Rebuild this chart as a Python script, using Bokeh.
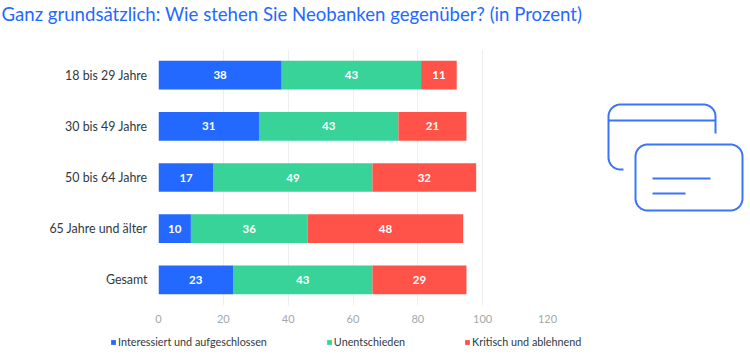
import numpy as np
from bokeh.plotting import figure
from bokeh.models import ColumnDataSource, FactorRange, Range1d, Legend, LegendItem, FixedTicker, Title
from bokeh.core.properties import value
from bokeh.embed import file_html
from bokeh.resources import INLINE

categories = ["18 bis 29 Jahre", "30 bis 49 Jahre", "50 bis 64 Jahre", "65 Jahre und älter", "Gesamt"]
interessiert = [38, 31, 17, 10, 23]
unentschieden = [43, 43, 49, 36, 43]
kritisch = [11, 21, 32, 48, 29]
series_names = ["Interessiert und aufgeschlossen", "Unentschieden", "Kritisch und ablehnend"]
series_values = [interessiert, unentschieden, kritisch]
series_colors = ["#2469FF", "#37D398", "#FF5349"]
x_ticks = [0, 20, 40, 60, 80, 100, 120]
title_text = "Ganz grundsätzlich: Wie stehen Sie Neobanken gegenüber? (in Prozent)"
FONT = "Lato"

def place(left, top):
    return {"position": "absolute", "left": f"{left}px", "top": f"{top}px"}

p = figure(width=600, height=350, output_backend="svg", toolbar_location=None, styles=place(0, -25),
           x_range=Range1d(0, 120), y_range=FactorRange(factors=categories[::-1], factor_padding=0, range_padding=0),
           min_border_left=158, min_border_right=53,
           min_border_top=72, min_border_bottom=18, outline_line_color=None, background_fill_color=None, border_fill_color=None)
p.title = Title(text=title_text, text_font=FONT, text_font_size="18.6px", text_font_style="normal",
                text_color="#2469FF", offset=-157, standoff=50)
p.ygrid.visible = False
p.xgrid.ticker = FixedTicker(ticks=x_ticks)
p.xgrid.grid_line_color = "#ECEFF1"
p.xgrid.grid_line_width = 1
ax = p.xaxis[0]
ax.ticker = FixedTicker(ticks=x_ticks)
ax.axis_line_color = None
ax.major_tick_line_color = None
ax.minor_tick_line_color = None
ax.major_label_text_font = FONT
ax.major_label_text_font_size = "11px"
ax.major_label_text_color = "#A3A8AB"
ax.major_label_standoff = 3
ay = p.yaxis[0]
ay.axis_line_color = None
ay.major_tick_line_color = None
ay.minor_tick_line_color = None
ay.major_label_text_font = FONT
ay.major_label_text_font_size = "12.4px"
ay.major_label_text_color = "#2F3A40"
ay.major_label_standoff = 5

left = np.zeros(len(categories))
for name, vals, col in zip(series_names, series_values, series_colors):
    vals = np.array(vals, dtype=float)
    src = ColumnDataSource(dict(y=categories, left=left, right=left + vals,
                                mid=left + vals / 2, label=[str(int(v)) for v in vals]))
    p.hbar(y="y", left="left", right="right", height=0.56, source=src, fill_color=col, line_color=None)
    p.text(x="mid", y="y", text="label", source=src, text_color="white", text_align="center",
           text_baseline="middle", text_font=value(FONT), text_font_size="11.5px", text_font_style="bold")
    left = left + vals

# legend strip under the chart
lg = figure(width=750, height=30, output_backend="svg", toolbar_location=None, styles=place(0, 325),
            x_range=Range1d(0, 1), y_range=Range1d(0, 1), x_axis_location=None, y_axis_location=None,
            min_border=0, outline_line_color=None, background_fill_color=None, border_fill_color=None)
lg.grid.visible = False
items = []
for name, col in zip(series_names, series_colors):
    r = lg.hbar(y=[float("nan")], left=[float("nan")], right=[float("nan")], height=1, fill_color=col, line_color=None)
    items.append(LegendItem(label=name, renderers=[r]))
legend = Legend(items=items, orientation="horizontal", location=(110, 7), spacing=59,
                glyph_width=6, glyph_height=6, label_standoff=2, padding=0, margin=0,
                background_fill_alpha=0, border_line_color=None,
                label_text_font=FONT, label_text_font_size="10.8px", label_text_color="#2F3A40")
lg.add_layout(legend)

# decorative card icon
ic = figure(width=150, height=125, output_backend="svg", toolbar_location=None, styles=place(600, 95),
            x_range=Range1d(600, 750), y_range=Range1d(220, 95), x_axis_location=None, y_axis_location=None,
            min_border=0, outline_line_color=None, background_fill_color=None, border_fill_color=None)
ic.grid.visible = False
ICON = "#3B74F5"

def corner(cx, cy, r, a0, a1):
    t = np.radians(np.linspace(a0, a1, 12))
    return list(cx + r * np.cos(t)), list(cy + r * np.sin(t))

def path(*parts):
    xs, ys = [], []
    for a, b in parts:
        xs += a
        ys += b
    ic.line(xs, ys, line_color=ICON, line_width=2)

path(([623, 620], [169, 169]), corner(620, 157, 12, 90, 180), corner(620, 116, 12, 180, 270),
     corner(703, 116, 12, 270, 360), ([715], [133]))
ic.line([608, 715], [120, 120], line_color=ICON, line_width=2)
path(corner(647, 156, 12, 180, 270), corner(730, 156, 12, 270, 360),
     corner(730, 198, 12, 0, 90), corner(647, 198, 12, 90, 180), ([635], [156]))
ic.line([652, 710], [178, 178], line_color=ICON, line_width=2)
ic.line([652, 685], [193, 193], line_color=ICON, line_width=2)

open("out.html", "w").write(file_html([p, lg, ic], INLINE))
